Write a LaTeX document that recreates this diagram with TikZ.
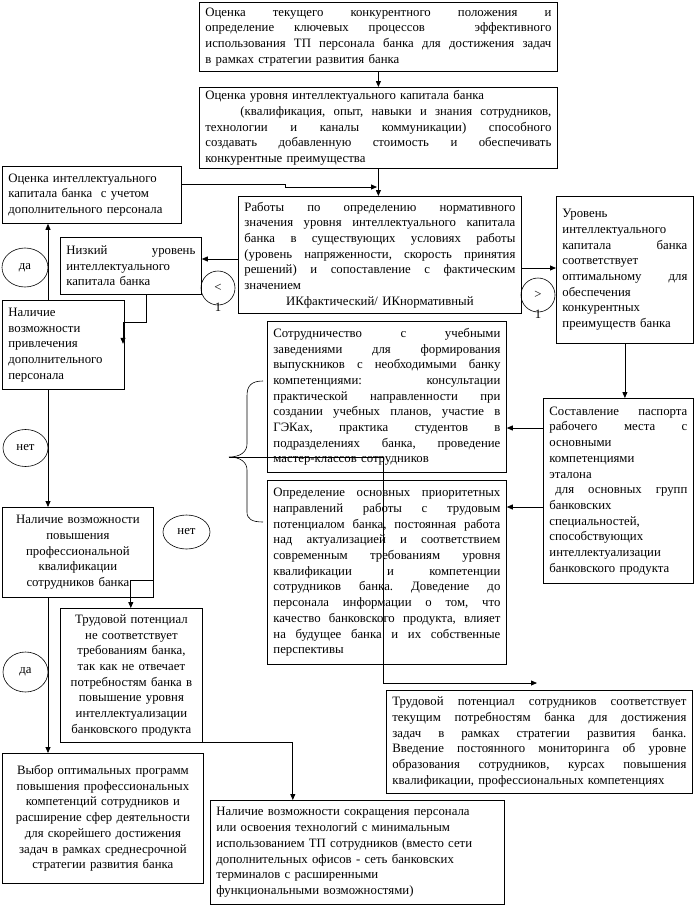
\documentclass[tikz,border=0pt]{standalone}
\usepackage{fontspec}
\setmainfont{Liberation Serif}
\usetikzlibrary{arrows.meta,shapes.geometric,calc}
\newcommand\Jn[1]{\hbox to\hsize{\frenchspacing\spaceskip=0.25em plus 1fil minus 0.05em\xspaceskip=\spaceskip\relax #1}}
\newcommand\Ln[1]{\hbox to\hsize{#1\hfil}}
\newcommand\Cn[1]{\hbox to\hsize{\hfil#1\hfil}}
\newcommand\mkbox[7]{\node[box,anchor=north west,minimum width=#3bp,minimum height=#4bp,text width=#5bp] (#6) at (#1,#2) {#7};}
\tikzset{
  txt/.style={font=\fontsize{12.8bp}{15.7bp}\selectfont},
  box/.style={draw,txt,line width=0.8bp,inner xsep=6bp,inner ysep=2bp},
  ell/.style={draw,ellipse,txt,line width=0.6bp,inner sep=0pt},
  circ/.style={draw,circle,line width=0.6bp,inner sep=0pt,minimum size=34bp},
  arr/.style={line width=0.8bp,-{Triangle[length=6bp,width=5bp]}},
  ln/.style={line width=0.8bp}
}
\begin{document}
\begin{tikzpicture}[x=1bp,y=-1bp]
\useasboundingbox (0,0) rectangle (695,914);
\mkbox{199}{2}{358}{69}{346}{A}{%
\Jn{Оценка текущего конкурентного положения и}
\Jn{определение ключевых процессов \hspace{10bp} эффективного}
\Jn{использования ТП персонала банка для достижения задач}
\Ln{в рамках стратегии развития банка}}
\mkbox{199}{87}{358}{81}{346}{B}{%
\Ln{Оценка уровня интеллектуального капитала банка}
\Jn{\hspace*{35bp}(квалификация, опыт, навыки и знания сотрудников,}
\Jn{технологии и каналы коммуникации) способного}
\Jn{создавать добавленную стоимость и обеспечивать}
\Ln{конкурентные преимущества}}
\mkbox{238}{196}{283}{117}{271}{C}{%
\Jn{Работы по определению нормативного}
\Jn{значения уровня интеллектуального капитала}
\Jn{банка в существующих условиях работы}
\Jn{(уровень напряженности, скорость принятия}
\Jn{решений) и сопоставление с фактическим}
\Ln{значением}
\Cn{ИКфактический/ ИКнормативный}}
\mkbox{556}{196}{137}{147}{125}{D}{%
\Ln{Уровень}
\Ln{интеллектуального}
\Jn{капитала банка}
\Ln{соответствует}
\Jn{оптимальному для}
\Ln{обеспечения}
\Ln{конкурентных}
\Ln{преимуществ банка}}
\mkbox{543}{398}{150}{185}{138}{E}{%
\Jn{Составление паспорта}
\Jn{рабочего места с}
\Ln{основными}
\Ln{компетенциями}
\Ln{эталона}
\Jn{\hspace*{6bp}для основных групп}
\Ln{банковских}
\Ln{специальностей,}
\Ln{способствующих}
\Ln{интеллектуализации}
\Ln{банковского продукта}}
\mkbox{267}{321}{239}{151}{227}{F}{%
\Jn{Сотрудничество с учебными}
\Jn{заведениями для формирования}
\Jn{выпускников с необходимыми банку}
\Jn{компетенциями: консультации}
\Jn{практической направленности при}
\Jn{создании учебных планов, участие в}
\Jn{ГЭКах, практика студентов в}
\Jn{подразделениях банка, проведение}
\Ln{мастер-классов сотрудников}}
\mkbox{267}{480}{239}{184}{227}{G}{%
\Jn{Определение основных приоритетных}
\Jn{направлений работы с трудовым}
\Jn{потенциалом банка, постоянная работа}
\Jn{над актуализацией и соответствием}
\Jn{современным требованиям уровня}
\Jn{квалификации и компетенции}
\Jn{сотрудников банка. Доведение до}
\Jn{персонала информации о том, что}
\Jn{качество банковского продукта, влияет}
\Jn{на будущее банка и их собственные}
\Ln{перспективы}}
\mkbox{386}{690}{306}{103}{294}{H}{%
\Jn{Трудовой потенциал сотрудников соответствует}
\Jn{текущим потребностям банка для достижения}
\Jn{задач в рамках стратегии развития банка.}
\Jn{Введение постоянного мониторинга об уровне}
\Jn{образования сотрудников, курсах повышения}
\Ln{квалификации, профессиональных компетенциях}}
\mkbox{210}{800}{294}{104}{282}{I}{%
\Ln{Наличие возможности сокращения персонала}
\Ln{или освоения технологий с минимальным}
\Ln{использованием ТП сотрудников (вместо сети}
\Ln{дополнительных офисов - сеть банковских}
\Ln{терминалов с расширенными}
\Ln{функциональными возможностями)}}
\mkbox{2}{166}{179}{57}{167}{L1}{%
\Ln{Оценка интеллектуального}
\Ln{капитала банка \ с учетом}
\Ln{дополнительного персонала}}
\mkbox{60}{237}{141}{57}{129}{L2}{%
\Jn{Низкий уровень}
\Ln{интеллектуального}
\Ln{капитала банка}}
\mkbox{2}{300}{122}{89}{110}{L3}{%
\Ln{Наличие}
\Ln{возможности}
\Ln{привлечения}
\Ln{дополнительного}
\Ln{персонала}}
\mkbox{2}{507}{151}{90}{139}{L4}{%
\Cn{Наличие возможности}
\Cn{повышения}
\Cn{профессиональной}
\Cn{квалификации}
\Cn{сотрудников банка}}
\mkbox{60}{608}{142}{134}{130}{L5}{%
\Cn{Трудовой потенциал}
\Cn{не соответствует}
\Cn{требованиям банка,}
\Cn{так как не отвечает}
\Cn{потребностям банка в}
\Cn{повышение уровня}
\Cn{интеллектуализации}
\Cn{банковского продукта}}
\mkbox{2}{753}{201}{130}{189}{L6}{%
\Cn{Выбор оптимальных программ}
\Cn{повышения профессиональных}
\Cn{компетенций сотрудников и}
\Cn{расширение сфер деятельности}
\Cn{для скорейшего достижения}
\Cn{задач в рамках среднесрочной}
\Cn{стратегии развития банка}}
% ellipses
\node[ell,minimum width=46bp,minimum height=39bp] (da1) at (25,267.5) {да};
\node[ell,minimum width=45bp,minimum height=37bp] (net1) at (25.5,448) {нет};
\node[ell,minimum width=47bp,minimum height=34bp] (net2) at (186.5,532) {нет};
\node[ell,minimum width=45bp,minimum height=40bp] (da2) at (25.5,672) {да};
% circles
\node[circ] (lt) at (218,288) {};
\node[txt,inner sep=0pt] (ltA) at (lt.center) {<};
\node[txt,inner sep=0pt] (ltB) at ([yshift=-2bp]lt.south) {1};
\node[circ] (gt) at (538,295) {};
\node[txt,inner sep=0pt] (gtA) at (gt.center) {>};
\node[txt,inner sep=0pt] (gtB) at ([yshift=-2bp]gt.south) {1};
% connectors
\draw[arr] (A.south) -- (B.north);
\draw[arr] (B.south) -- (B.south |- C.north);
\coordinate (cin) at (377,187);
\draw[arr] ($(L1.north east)+(0,18)$) -- ++(104,0) -- ++(0,3) -- (cin);
\draw[arr] ($(C.north west)+(0,63)$) coordinate (t1) -- (t1 -| L2.east);
\draw[arr] ($(C.north east)+(0,72)$) coordinate (t2) -- (t2 -| D.west);
\draw[arr] (D.south) -- (D.south |- E.north);
\draw[arr] ($(E.north west)+(0,30)$) coordinate (t3) -- (t3 -| F.east);
\draw[arr] ($(E.north west)+(0,109)$) coordinate (t4) -- (t4 -| G.east);
\draw[arr] ($(L2.south west)+(86,0)$) -- ++(0,28) -- ++(-23,0) -- ++(0,21);
\draw[arr] ($(L3.north west)+(46,0)$) coordinate (t5) -- (t5 |- L1.south);
\draw[arr] ($(L3.south west)+(46,0)$) coordinate (t6) -- (t6 |- L4.north);
\draw[arr] ($(L4.south east)+(0,-17)$) -- ++(-23,0) coordinate (t7) -- (t7 |- L5.north);
\draw[arr] ($(L4.south west)+(46,0)$) coordinate (t8) -- (t8 |- L6.north);
\draw[arr] (L5.south east) -- ++(90,0) coordinate (t9) -- (t9 |- I.north);
% brace
\coordinate (tip) at (229,457);
\draw[line width=0.6bp] (263,381) .. controls (251,381) and (247,386) .. (247,396) -- (247,444) .. controls (247,452) and (240,457) .. (tip) .. controls (240,457) and (247,462) .. (247,470) -- (247,512) .. controls (247,519) and (252,522) .. (263,522);
\coordinate (hend) at (537,683);
\draw[arr] (tip) -- (383,457) -- (383,683) -- (hend);
\end{tikzpicture}
\end{document}
